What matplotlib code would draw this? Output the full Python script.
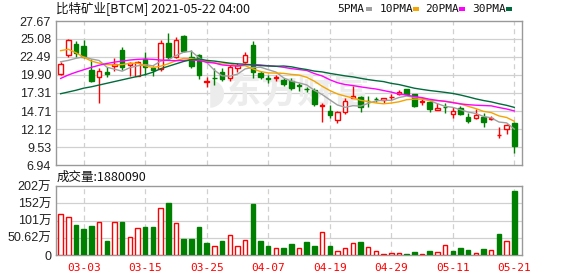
import matplotlib
matplotlib.use("Agg")
import matplotlib.pyplot as plt
from matplotlib.patches import Rectangle
import numpy as np

# ---------------- data ----------------
dates = ["02-26","03-01","03-02","03-03","03-04","03-05","03-08","03-09","03-10","03-11",
         "03-12","03-15","03-16","03-17","03-18","03-19","03-22","03-23","03-24","03-25",
         "03-26","03-29","03-30","03-31","04-01","04-05","04-06","04-07","04-08","04-09",
         "04-12","04-13","04-14","04-15","04-16","04-19","04-20","04-21","04-22","04-23",
         "04-26","04-27","04-28","04-29","04-30","05-03","05-04","05-05","05-06","05-07",
         "05-10","05-11","05-12","05-13","05-14","05-17","05-18","05-19","05-20","05-21"]

opens = [20.05,22.73,24.36,24.07,20.62,19.56,20.33,21.26,23.50,21.29,
         19.80,22.16,20.95,20.72,24.46,22.44,25.51,22.44,22.82,18.95,
         19.50,20.33,19.46,20.90,21.77,24.26,20.14,19.40,19.50,19.22,
         19.03,18.42,17.93,17.74,15.43,14.71,13.42,14.53,16.54,16.73,
         16.20,16.48,16.34,16.68,17.12,17.88,17.16,16.00,16.05,14.90,
         15.33,14.33,15.19,13.85,13.75,13.89,13.60,11.20,12.08,13.03]
highs = [21.80,25.04,24.75,24.93,22.24,20.90,21.09,22.34,23.97,21.77,
         21.96,23.21,21.24,24.93,25.94,25.32,25.70,23.50,22.92,19.65,
         20.90,20.90,21.38,21.62,23.21,24.75,20.43,19.94,19.94,19.46,
         19.42,18.70,18.21,17.98,15.91,15.58,14.71,16.63,18.31,16.92,
         16.92,16.77,16.63,17.12,17.74,17.95,17.23,16.39,16.10,15.82,
         15.91,15.33,15.48,14.47,14.96,14.38,14.04,12.45,12.80,13.17]
lows = [19.85,22.53,22.53,22.34,18.89,15.82,19.56,20.52,20.62,19.80,
        19.71,19.94,19.80,20.43,22.13,22.34,23.21,20.90,19.36,18.12,
        18.50,19.08,19.08,20.33,21.58,19.46,19.36,18.74,19.08,18.27,
        17.78,17.59,17.49,15.48,13.09,13.66,13.03,14.24,16.54,14.53,
        15.33,16.05,15.82,16.34,17.02,17.10,15.29,15.62,14.61,14.90,
        14.47,13.66,14.14,13.03,13.61,12.45,13.37,10.78,11.36,8.71]
closes = [21.48,24.89,23.02,22.53,19.08,20.43,20.08,21.55,21.09,21.58,
          21.77,21.00,20.62,24.46,22.49,24.93,23.39,21.26,19.85,19.03,
          19.40,19.30,21.09,21.29,22.82,20.33,19.56,19.30,19.60,18.60,
          17.98,18.33,17.85,15.68,15.62,14.14,14.61,16.15,16.87,15.33,
          16.10,16.40,16.63,16.75,17.41,17.16,15.43,16.10,14.96,15.19,
          15.25,14.71,14.33,13.32,14.14,13.17,13.70,11.30,12.70,9.72]

# volume in 万 shares (last value 1880090)
volumes_wan = [119.3,110.5,88.0,76.3,85.1,95.9,41.1,95.9,96.8,51.8,
               78.3,82.2,82.2,136.9,152.6,93.9,47.0,47.0,82.2,35.2,
               25.4,41.1,57.7,25.4,43.0,149.7,41.1,26.4,19.6,20.5,
               32.3,19.6,38.1,26.4,66.5,26.4,10.8,19.6,34.2,38.1,
               22.5,10.8,2.9,5.9,5.9,2.9,8.8,2.9,11.7,8.8,
               28.4,11.7,20.5,14.7,5.9,17.6,14.7,61.6,41.1,188.009]
# volume bar direction: r = up, g = down
volume_dir = list("rrgggrgrgrrggrgrggggrgrrrgggrggrggrgrrrgrrrrrggrgrrgggrgrgrg")

# moving-average values before enough history is shown
ma5_head = [21.8, 22.0, 22.3, 22.5]
ma10_head = [23.4, 23.6, 23.1, 22.45, 21.9, 21.6, 21.4, 21.35, 21.4]
ma20_head = [19.4, 19.9, 20.3, 20.65, 21.0, 21.3, 21.55, 21.75, 21.9, 22.05,
             22.15, 22.2, 22.15, 22.05, 22.0, 21.95, 22.0, 22.05, 22.0]
ma30_head = [17.2, 17.45, 17.7, 18.0, 18.2, 18.45, 18.7, 18.95, 19.2, 19.45,
             19.7, 19.95, 20.3, 20.8, 21.15, 21.5, 21.85, 22.1, 22.2, 22.0,
             21.9, 21.75, 21.6, 21.5, 21.45, 21.35, 21.25, 21.2, 21.15]

price_ticks = [6.94, 9.53, 12.12, 14.71, 17.31, 19.90, 22.49, 25.08, 27.67]
vol_ticks = [0, 506200, 1012400, 1518600, 2024800]
vol_tick_labels = ["0", "50.62万", "101万", "152万", "202万"]
label_dates = ["03-03", "03-15", "03-25", "04-07", "04-19", "04-29", "05-11", "05-21"]

title = "比特矿业[BTCM] 2021-05-22 04:00"
vol_title = "成交量:1880090"
ma_names = ["5PMA", "10PMA", "20PMA", "30PMA"]

# ---------------- style ----------------
RED = "#ff0000"
GREEN = "#008000"
MA_COLORS = ["#a0a0a0", "#f5a400", "#ff00ff", "#006b3c"]
GRID = "#d0d0d0"
BORDER = "#999999"
CJK = ["Noto Sans CJK SC", "DejaVu Sans"]

W, H = 578, 276
fig = plt.figure(figsize=(W / 100, H / 100), dpi=100)
fig.patch.set_facecolor("white")


def fx(px):
    return px / W


def fy(py):
    return 1 - py / H


ax = fig.add_axes([fx(56), fy(165), fx(522) - fx(56), fy(21) - fy(165)])
axv = fig.add_axes([fx(56), fy(255), fx(522) - fx(56), fy(186) - fy(255)])

n = len(closes)
x = np.arange(n)
xlim = (-0.6, 60.0)


def moving_average(head, period):
    vals = list(head)
    for i in range(period - 1, n):
        vals.append(np.mean(closes[i - period + 1:i + 1]))
    return vals


mas = [moving_average(ma5_head, 5), moving_average(ma10_head, 10),
       moving_average(ma20_head, 20), moving_average(ma30_head, 30)]

label_idx = [dates.index(d) for d in label_dates]

for a in (ax, axv):
    a.set_xlim(*xlim)
    for s in a.spines.values():
        s.set_color(BORDER)
        s.set_linewidth(1)
    a.tick_params(length=0)
    a.set_xticks([])
    for i in label_idx:
        a.axvline(i, color=GRID, lw=0.9, ls=(0, (4, 3)), zorder=0)

# ---- main panel ----
ax.set_ylim(price_ticks[0], price_ticks[-1])
ax.set_yticks(price_ticks)
ax.set_yticklabels([f"{t:.2f}" for t in price_ticks], family="Liberation Sans",
                   fontsize=9, color="#222222")
for t in price_ticks[1:-1]:
    ax.axhline(t, color=GRID, lw=0.9, zorder=0)

# watermark
ax.text(0.5, 0.5, "◗东方财富", transform=ax.transAxes, ha="center", va="center",
        fontsize=26, fontweight="bold", family=CJK, color="#ececec", zorder=0,
        style="italic")

bw = 0.58
for i in range(n):
    o, h, l, c = opens[i], highs[i], lows[i], closes[i]
    up = c >= o
    col = RED if up else GREEN
    top, bot = max(o, c), min(o, c)
    body = max(top - bot, 0.04)
    if up:
        ax.vlines(i, top, h, color=col, lw=1.0, zorder=3)
        ax.vlines(i, l, bot, color=col, lw=1.0, zorder=3)
        ax.add_patch(Rectangle((i - bw / 2, bot), bw, body, facecolor="white",
                               edgecolor=col, lw=1.0, zorder=4))
    else:
        ax.vlines(i, l, h, color=col, lw=1.0, zorder=3)
        ax.add_patch(Rectangle((i - bw / 2, bot), bw, body, facecolor=col,
                               edgecolor=col, lw=1.0, zorder=4))

for vals, col in zip(mas, MA_COLORS):
    ax.plot(x, vals, color=col, lw=1.0, zorder=5)

# ---- volume panel ----
axv.set_ylim(vol_ticks[0], vol_ticks[-1])
axv.set_yticks(vol_ticks)
axv.set_yticklabels(vol_tick_labels, family=["Liberation Sans", "Noto Sans CJK SC"],
                    fontsize=9, color="#222222")
for t in vol_ticks[1:-1]:
    axv.axhline(t, color=GRID, lw=0.9, zorder=0)

vols = [v * 10000 for v in volumes_wan]
for i in range(n):
    if volume_dir[i] == "r":
        axv.bar(i, vols[i], width=bw, facecolor="white", edgecolor=RED, lw=1.0, zorder=3)
    else:
        axv.bar(i, vols[i], width=bw, facecolor=GREEN, edgecolor=GREEN, lw=1.0, zorder=3)

for i, d in zip(label_idx, label_dates):
    axv.text(i, -0.11, d, transform=axv.get_xaxis_transform(), ha="center", va="top",
             color=RED, fontsize=8, family="DejaVu Sans Mono")

# ---- texts ----
fig.text(fx(56), fy(9), title, ha="left", va="center", fontsize=9, family=CJK, color="#111111")
fig.text(fx(57), fy(177), vol_title, ha="left", va="center", fontsize=9, family=CJK, color="#111111")

legend_x = [337, 380, 425, 472]
sq_x = [366, 413, 459, 506]
for name, lx, sx, col in zip(ma_names, legend_x, sq_x, MA_COLORS):
    fig.text(fx(lx), fy(9), name, ha="left", va="center", fontsize=8,
             family="DejaVu Sans Mono", color="#111111")
    fig.patches.append(Rectangle((fx(sx), fy(11)), fx(6), fy(7) - fy(11) + 0.0,
                                 transform=fig.transFigure, facecolor=col,
                                 edgecolor="none"))

fig.savefig("out.png", dpi=100, facecolor="white")
